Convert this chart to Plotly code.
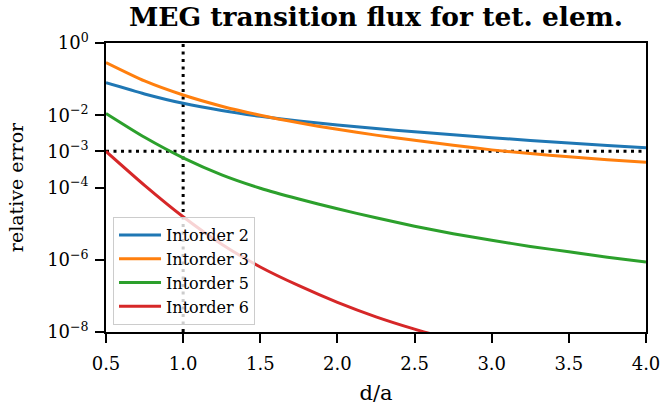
"""MEG transition flux error vs. distance for tetrahedral elements."""

import plotly.graph_objects as go

# distance / element size
d_over_a = [0.5, 0.75, 1.0, 1.25, 1.5, 1.75, 2.0, 2.25, 2.5, 2.75, 3.0, 3.25, 3.5, 3.75, 4.0]

# relative error per integration order
err_intorder_2 = [
    7.94e-2, 3.89e-2, 2.14e-2, 1.35e-2, 9.33e-3, 6.92e-3, 5.37e-3, 4.27e-3,
    3.47e-3, 2.88e-3, 2.40e-3, 2.00e-3, 1.70e-3, 1.45e-3, 1.26e-3,
]
err_intorder_3 = [
    2.88e-1, 8.91e-2, 3.63e-2, 1.78e-2, 1.00e-2, 6.17e-3, 4.07e-3, 2.82e-3,
    2.04e-3, 1.48e-3, 1.10e-3, 8.71e-4, 7.08e-4, 5.89e-4, 5.01e-4,
]
err_intorder_5 = [
    1.12e-2, 2.45e-3, 6.61e-4, 2.24e-4, 9.55e-5, 4.79e-5, 2.57e-5, 1.45e-5,
    8.51e-6, 5.25e-6, 3.47e-6, 2.34e-6, 1.66e-6, 1.17e-6, 8.71e-7,
]
err_intorder_6 = [
    1.00e-3, 1.15e-4, 1.55e-5, 2.69e-6, 6.31e-7, 1.91e-7, 6.61e-8, 2.63e-8,
    1.20e-8, 6.03e-9,
]

series_names = ["Intorder 2", "Intorder 3", "Intorder 5", "Intorder 6"]
series_values = [err_intorder_2, err_intorder_3, err_intorder_5, err_intorder_6]
series_colors = ["#1f77b4", "#ff7f0e", "#2ca02c", "#d62728"]

x_ticks = [0.5, 1.0, 1.5, 2.0, 2.5, 3.0, 3.5, 4.0]
y_ticks = [1e0, 1e-2, 1e-3, 1e-4, 1e-6, 1e-8]
y_tick_labels = [
    "10<sup>0</sup>",
    "10<sup>−2</sup>",
    "10<sup>−3</sup>",
    "10<sup>−4</sup>",
    "10<sup>−6</sup>",
    "10<sup>−8</sup>",
]

# reference markers (dotted lines)
ref_distance = 1.0
ref_error = 1e-3

font_family = "DejaVu Serif"
dotted = dict(color="black", width=3, dash="3px,4.5px")

figure = go.Figure()
for name, values, color in zip(series_names, series_values, series_colors):
    figure.add_trace(
        go.Scatter(
            x=d_over_a[: len(values)],
            y=values,
            mode="lines",
            name=name,
            line=dict(color=color, width=3, shape="spline", smoothing=0.6),
        )
    )

figure.add_shape(
    type="line", xref="x", yref="paper",
    x0=ref_distance, x1=ref_distance, y0=0, y1=1,
    line=dotted, layer="below",
)
figure.add_shape(
    type="line", xref="paper", yref="y",
    x0=0, x1=1, y0=ref_error, y1=ref_error,
    line=dotted, layer="below",
)

axis_style = dict(
    ticks="outside",
    ticklen=9,
    tickwidth=1.5,
    tickcolor="black",
    showline=True,
    linecolor="black",
    linewidth=1.5,
    mirror=True,
    showgrid=False,
    zeroline=False,
    automargin=False,
    tickfont=dict(family=font_family, size=18, color="black"),
)

figure.update_xaxes(
    range=[0.5, 4.0],
    tickvals=x_ticks,
    ticktext=[f"{v:.1f}" for v in x_ticks],
    ticklabelstandoff=6,
    title=dict(text="d/a", font=dict(family=font_family, size=21, color="black"), standoff=12),
    **axis_style,
)
figure.update_yaxes(
    type="log",
    range=[-8, 0],
    tickvals=y_ticks,
    ticktext=y_tick_labels,
    ticklabelstandoff=3,
    title=dict(text="relative error", font=dict(family=font_family, size=19, color="black"), standoff=19),
    **axis_style,
)

figure.update_layout(
    width=663,
    height=405,
    margin=dict(l=106, r=17, t=43, b=73),
    paper_bgcolor="white",
    plot_bgcolor="white",
    title=dict(
        text="<b>MEG transition flux for tet. elem.</b>",
        x=0.5,
        xref="paper",
        xanchor="center",
        y=0.958,
        yref="container",
        yanchor="middle",
        font=dict(family=font_family, size=26.5, color="black"),
    ),
    legend=dict(
        x=0.013,
        y=0.024,
        xanchor="left",
        yanchor="bottom",
        bgcolor="rgba(255,255,255,0.8)",
        bordercolor="#cccccc",
        borderwidth=1,
        font=dict(family=font_family, size=16, color="black"),
        tracegroupgap=0,
        itemwidth=42,
    ),
    showlegend=True,
)

# drop the default body margin so the figure sits at the window origin
figure.write_html(
    "out.html",
    config={"displayModeBar": False},
    post_script="document.body.style.margin='0';",
)
